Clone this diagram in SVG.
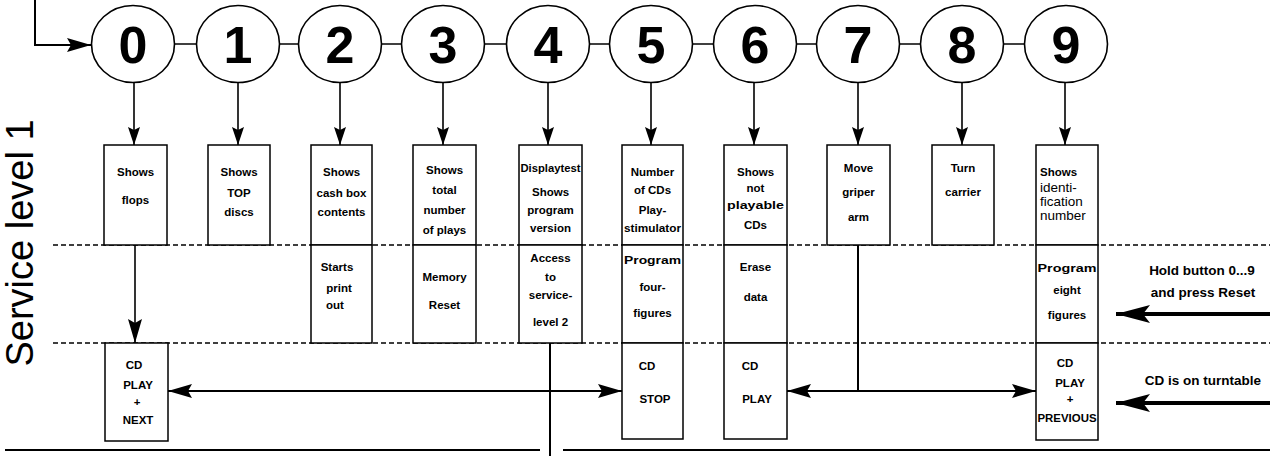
<svg xmlns="http://www.w3.org/2000/svg" width="1270" height="456" viewBox="0 0 1270 456">
<style>
.c{fill:#fff;stroke:#000;stroke-width:1.6}
.num{font-family:"Liberation Sans",Arial,sans-serif;font-weight:bold;font-size:52px;text-anchor:middle;fill:#000}
.b{fill:#fff;stroke:#000;stroke-width:1.5}
.t{font-family:"Liberation Sans",Arial,sans-serif;font-weight:bold;font-size:11.5px;text-anchor:middle;fill:#000}
.ts{font-family:"Liberation Sans",Arial,sans-serif;font-weight:bold;font-size:11.5px;text-anchor:start;fill:#000}
.r{font-family:"Liberation Sans",Arial,sans-serif;font-size:14px;fill:#000}
.lbl{font-family:"Liberation Sans",Arial,sans-serif;font-weight:bold;font-size:13.5px;text-anchor:middle;fill:#000}
.ln{stroke:#000;stroke-width:1.6;fill:none}
.ln2{stroke:#000;stroke-width:2;fill:none}
.thick{stroke:#000;stroke-width:4;fill:none}
.dash{stroke:#000;stroke-width:1.3;stroke-dasharray:5 3;fill:none}
</style>
<defs>
<marker id="a" markerUnits="userSpaceOnUse" markerWidth="18" markerHeight="12" refX="18" refY="6" orient="auto-start-reverse"><path d="M0,0 L18,6 L0,12 L3,6 z" fill="#000"/></marker>
<marker id="d" markerUnits="userSpaceOnUse" markerWidth="24" markerHeight="14" refX="24" refY="7" orient="auto-start-reverse"><path d="M0,0 L24,7 L0,14 L4,7 z" fill="#000"/></marker>
<marker id="A" markerUnits="userSpaceOnUse" markerWidth="34" markerHeight="18" refX="34" refY="9" orient="auto"><path d="M0,0 L34,9 L0,18 L7,9 z" fill="#000"/></marker>
</defs>

<rect width="1270" height="456" fill="#fff"/>

<g id="service-level-label">
<text class="r" style="font-size:38px" text-anchor="middle" transform="translate(33,243) rotate(-90)">Service level 1</text>
</g>

<g id="dividers">
<line class="dash" x1="53" y1="245" x2="1270" y2="245"/>
<line class="dash" x1="53" y1="343" x2="1270" y2="343"/>
<line class="ln2" x1="5" y1="450" x2="540" y2="450"/>
<line class="ln2" x1="563" y1="450" x2="1270" y2="450"/>
</g>

<g id="connectors">
<path class="ln2" d="M35,0 V45 H91" marker-end="url(#d)"/>
<line class="ln" x1="133" y1="44" x2="1066" y2="44"/>
<line class="ln" x1="134" y1="82" x2="134" y2="145" marker-end="url(#a)"/>
<line class="ln" x1="238" y1="82" x2="238" y2="145" marker-end="url(#a)"/>
<line class="ln" x1="340" y1="82" x2="340" y2="145" marker-end="url(#a)"/>
<line class="ln" x1="443" y1="82" x2="443" y2="145" marker-end="url(#a)"/>
<line class="ln" x1="548" y1="82" x2="548" y2="145" marker-end="url(#a)"/>
<line class="ln" x1="651" y1="82" x2="651" y2="145" marker-end="url(#a)"/>
<line class="ln" x1="754" y1="82" x2="754" y2="145" marker-end="url(#a)"/>
<line class="ln" x1="858" y1="82" x2="858" y2="145" marker-end="url(#a)"/>
<line class="ln" x1="962" y1="82" x2="962" y2="145" marker-end="url(#a)"/>
<line class="ln" x1="1065" y1="82" x2="1065" y2="145" marker-end="url(#a)"/>
<line class="ln" x1="135" y1="245" x2="135" y2="343" marker-end="url(#d)"/>
<line class="ln2" x1="168" y1="391" x2="622" y2="391" marker-start="url(#d)" marker-end="url(#d)"/>
<line class="ln2" x1="787" y1="391" x2="1036" y2="391" marker-start="url(#d)" marker-end="url(#d)"/>
<line class="ln2" x1="858" y1="245" x2="858" y2="391"/>
<line class="ln2" x1="550" y1="343" x2="550" y2="456"/>
<line class="thick" x1="1270" y1="314" x2="1116" y2="314" marker-end="url(#A)"/>
<line class="thick" x1="1270" y1="403" x2="1116" y2="403" marker-end="url(#A)"/>
</g>

<g id="state-0"><ellipse class="c" cx="133" cy="44" rx="41.5" ry="38.5"/><text class="num" x="133" y="63">0</text></g>
<g id="state-1"><ellipse class="c" cx="238" cy="44" rx="41.5" ry="38.5"/><text class="num" x="238" y="63">1</text></g>
<g id="state-2"><ellipse class="c" cx="340" cy="44" rx="41.5" ry="38.5"/><text class="num" x="340" y="63">2</text></g>
<g id="state-3"><ellipse class="c" cx="443" cy="44" rx="41.5" ry="38.5"/><text class="num" x="443" y="63">3</text></g>
<g id="state-4"><ellipse class="c" cx="548" cy="44" rx="41.5" ry="38.5"/><text class="num" x="548" y="63">4</text></g>
<g id="state-5"><ellipse class="c" cx="651" cy="44" rx="41.5" ry="38.5"/><text class="num" x="651" y="63">5</text></g>
<g id="state-6"><ellipse class="c" cx="755" cy="44" rx="41.5" ry="38.5"/><text class="num" x="755" y="63">6</text></g>
<g id="state-7"><ellipse class="c" cx="858" cy="44" rx="41.5" ry="38.5"/><text class="num" x="858" y="63">7</text></g>
<g id="state-8"><ellipse class="c" cx="962" cy="44" rx="41.5" ry="38.5"/><text class="num" x="962" y="63">8</text></g>
<g id="state-9"><ellipse class="c" cx="1066" cy="44" rx="41.5" ry="38.5"/><text class="num" x="1066" y="63">9</text></g>

<g id="box-0">
<rect class="b" x="104" y="145" width="63" height="100"/>
<text class="t" x="135.5" y="176">Shows</text>
<text class="t" x="135.5" y="204">flops</text>
<rect class="b" x="105" y="343" width="63" height="98"/>
<text class="t" x="134" y="369">CD</text>
<text class="t" x="138" y="389">PLAY</text>
<text class="t" x="137" y="406">+</text>
<text class="t" x="138" y="424">NEXT</text>
</g>

<g id="box-1">
<rect class="b" x="208" y="145" width="62" height="100"/>
<text class="t" x="239" y="176">Shows</text>
<text class="t" x="239" y="197">TOP</text>
<text class="t" x="239" y="216">discs</text>
</g>

<g id="box-2">
<rect class="b" x="311" y="145" width="61" height="100"/>
<text class="t" x="341.5" y="176">Shows</text>
<text class="t" x="341.5" y="197">cash box</text>
<text class="t" x="341.5" y="216">contents</text>
<rect class="b" x="311" y="245" width="61" height="98"/>
<text class="t" x="337" y="271">Starts</text>
<text class="t" x="339" y="292">print</text>
<text class="t" x="335" y="309">out</text>
</g>

<g id="box-3">
<rect class="b" x="413" y="145" width="63" height="100"/>
<text class="t" x="444.5" y="174">Shows</text>
<text class="t" x="444.5" y="194">total</text>
<text class="t" x="444.5" y="214">number</text>
<text class="t" x="444.5" y="234">of plays</text>
<rect class="b" x="413" y="245" width="63" height="98"/>
<text class="t" x="444.5" y="281">Memory</text>
<text class="t" x="444.5" y="309">Reset</text>
</g>

<g id="box-4">
<rect class="b" x="519" y="145" width="63" height="100"/>
<text class="t" x="550.5" y="172" textLength="60" lengthAdjust="spacingAndGlyphs">Displaytest</text>
<text class="t" x="550.5" y="196">Shows</text>
<text class="t" x="550.5" y="214">program</text>
<text class="t" x="550.5" y="232">version</text>
<rect class="b" x="519" y="245" width="63" height="98"/>
<text class="t" x="550.5" y="262">Access</text>
<text class="t" x="550.5" y="281">to</text>
<text class="t" x="550.5" y="299">service-</text>
<text class="t" x="550.5" y="326">level 2</text>
</g>

<g id="box-5">
<rect class="b" x="622" y="145" width="61" height="100"/>
<text class="t" x="652.5" y="176">Number</text>
<text class="t" x="652.5" y="194">of CDs</text>
<text class="t" x="652.5" y="214">Play-</text>
<text class="t" x="652.5" y="232" textLength="57" lengthAdjust="spacingAndGlyphs">stimulator</text>
<rect class="b" x="622" y="245" width="61" height="98"/>
<text class="t" x="652.5" y="264" textLength="57" lengthAdjust="spacingAndGlyphs">Program</text>
<text class="t" x="652.5" y="291">four-</text>
<text class="t" x="652.5" y="317">figures</text>
<rect class="b" x="622" y="343" width="61" height="96"/>
<text class="t" x="647" y="370">CD</text>
<text class="t" x="655" y="403">STOP</text>
</g>

<g id="box-6">
<rect class="b" x="724" y="145" width="63" height="100"/>
<text class="t" x="755.5" y="176">Shows</text>
<text class="t" x="755.5" y="192">not</text>
<text class="t" x="755.5" y="209" textLength="57" lengthAdjust="spacingAndGlyphs">playable</text>
<text class="t" x="755.5" y="229">CDs</text>
<rect class="b" x="724" y="245" width="63" height="98"/>
<text class="t" x="755.5" y="271">Erase</text>
<text class="t" x="755.5" y="301">data</text>
<rect class="b" x="724" y="343" width="63" height="96"/>
<text class="t" x="750" y="370">CD</text>
<text class="t" x="757" y="403">PLAY</text>
</g>

<g id="box-7">
<rect class="b" x="827" y="145" width="63" height="100"/>
<text class="t" x="858.5" y="172">Move</text>
<text class="t" x="858.5" y="196">griper</text>
<text class="t" x="858.5" y="221">arm</text>
</g>

<g id="box-8">
<rect class="b" x="932" y="145" width="62" height="100"/>
<text class="t" x="963" y="172">Turn</text>
<text class="t" x="963" y="196">carrier</text>
</g>

<g id="box-9">
<rect class="b" x="1036" y="145" width="62" height="100"/>
<text class="ts" x="1040" y="176">Shows</text>
<text class="r" x="1040" y="192" style="font-size:13.5px">identi-</text>
<text class="r" x="1040" y="206" style="font-size:13.5px">fication</text>
<text class="r" x="1040" y="220" style="font-size:13.5px">number</text>
<rect class="b" x="1036" y="245" width="62" height="98"/>
<text class="t" x="1067" y="272" textLength="59" lengthAdjust="spacingAndGlyphs">Program</text>
<text class="t" x="1067" y="294">eight</text>
<text class="t" x="1067" y="319">figures</text>
<rect class="b" x="1036" y="343" width="62" height="97"/>
<text class="t" x="1065" y="367">CD</text>
<text class="t" x="1070" y="387">PLAY</text>
<text class="t" x="1070" y="403">+</text>
<text class="t" x="1067" y="422" textLength="59" lengthAdjust="spacingAndGlyphs">PREVIOUS</text>
</g>

<g id="input-labels">
<text class="lbl" x="1202" y="275">Hold button 0...9</text>
<text class="lbl" x="1203" y="297">and press Reset</text>
<text class="lbl" x="1203" y="385">CD is on turntable</text>
</g>
</svg>
